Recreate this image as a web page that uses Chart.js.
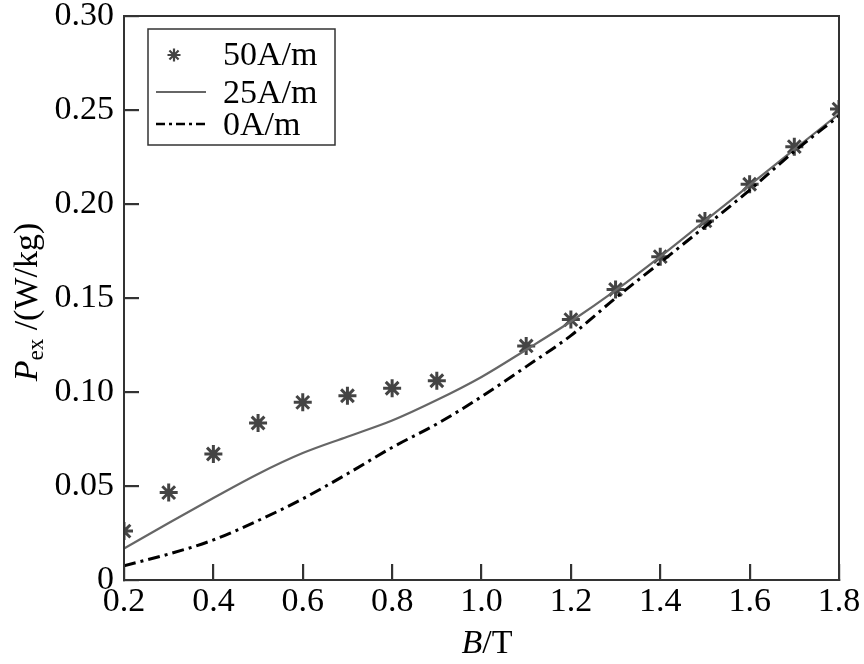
<!DOCTYPE html>
<html>
<head>
<meta charset="utf-8">
<script src="https://cdn.jsdelivr.net/npm/chart.js@4.4.1/dist/chart.umd.min.js"></script>
<style>
html,body{margin:0;padding:0;background:#fff;}
#wrap{width:864px;height:664px;position:relative;}
</style>
</head>
<body>
<div id="wrap"><canvas id="c" width="864" height="664"></canvas></div>
<script>
// ---- data ----
const bStars = [0.2,0.3,0.4,0.5,0.6,0.7,0.8,0.9,1.1,1.2,1.3,1.4,1.5,1.6,1.7,1.8];
const p50 = [0.026,0.0465,0.067,0.0835,0.0945,0.098,0.102,0.106,0.1245,0.1385,0.1545,0.172,0.191,0.2105,0.2305,0.2505];
const bLine = [0.2,0.3,0.4,0.5,0.6,0.7,0.8,0.9,1.0,1.1,1.2,1.3,1.4,1.5,1.6,1.7,1.8];
const p25 = [0.0167,0.0303,0.0436,0.0564,0.0675,0.0762,0.0848,0.0957,0.108,0.1225,0.1375,0.154,0.172,0.191,0.210,0.229,0.248];
const p0 = [0.0076,0.0138,0.0213,0.0316,0.0432,0.0565,0.0705,0.0830,0.0975,0.1135,0.1300,0.1500,0.1688,0.1880,0.2074,0.2280,0.2468];
const seriesLabels = ['50A/m','25A/m','0A/m'];
const xTicks = [0.2,0.4,0.6,0.8,1.0,1.2,1.4,1.6,1.8];
const yTicks = [0,0.05,0.10,0.15,0.20,0.25,0.30];

const FONT = "'Liberation Serif','Times New Roman',serif";
const FS = 34;
const pts = (xs, ys) => xs.map((x,i)=>({x:x,y:ys[i]}));

const framePlugin = {
  id:'frame',
  afterDraw(chart){
    const ctx = chart.ctx, a = chart.chartArea;
    ctx.save();
    ctx.setLineDash([]);
    ctx.strokeStyle = '#333'; ctx.lineWidth = 2;
    ctx.strokeRect(a.left, a.top, a.right-a.left, a.bottom-a.top);

    // legend
    ctx.fillStyle = '#fff';
    ctx.fillRect(148,29,187,116);
    ctx.strokeStyle = '#333'; ctx.lineWidth = 1.5;
    ctx.strokeRect(148,29,187,116);
    const cx=174, cy=55, r=6.5;
    ctx.strokeStyle='#444'; ctx.lineWidth=2.2;
    ctx.beginPath();
    for(let k=0;k<4;k++){ const ang = k*Math.PI/4; ctx.moveTo(cx-r*Math.cos(ang), cy-r*Math.sin(ang)); ctx.lineTo(cx+r*Math.cos(ang), cy+r*Math.sin(ang)); }
    ctx.stroke();
    ctx.strokeStyle='#666'; ctx.lineWidth=2;
    ctx.beginPath(); ctx.moveTo(156,92); ctx.lineTo(206,92); ctx.stroke();
    ctx.strokeStyle='#000'; ctx.lineWidth=2.5; ctx.setLineDash([9,4,3,4]);
    ctx.beginPath(); ctx.moveTo(156,124); ctx.lineTo(206,124); ctx.stroke();
    ctx.setLineDash([]);
    ctx.fillStyle='#000'; ctx.font = FS+'px '+FONT; ctx.textAlign='left'; ctx.textBaseline='alphabetic';
    ctx.fillText(seriesLabels[0],223,65);
    ctx.fillText(seriesLabels[1],223,103);
    ctx.fillText(seriesLabels[2],223,135);

    // x title
    ctx.font = 'italic '+FS+'px '+FONT;
    const wB = ctx.measureText('B').width;
    ctx.font = FS+'px '+FONT;
    const wT = ctx.measureText('/T').width;
    const x0 = 487 - (wB+wT)/2;
    ctx.font = 'italic '+FS+'px '+FONT; ctx.fillText('B', x0, 653);
    ctx.font = FS+'px '+FONT; ctx.fillText('/T', x0+wB, 653);

    // y title
    ctx.translate(37, 302);
    ctx.rotate(-Math.PI/2);
    ctx.font = 'italic '+FS+'px '+FONT; const wP = ctx.measureText('P').width;
    ctx.font = '23px '+FONT; const wE = ctx.measureText('ex').width;
    ctx.font = FS+'px '+FONT; const wR = ctx.measureText(' /(W/kg)').width;
    const t0 = -(wP+wE+wR)/2;
    ctx.font = 'italic '+FS+'px '+FONT; ctx.fillText('P', t0, 0);
    ctx.font = '23px '+FONT; ctx.fillText('ex', t0+wP, 6);
    ctx.font = FS+'px '+FONT; ctx.fillText(' /(W/kg)', t0+wP+wE, 0);
    ctx.restore();
  }
};

new Chart(document.getElementById('c'), {
  type:'scatter',
  data:{
    datasets:[
      {label:seriesLabels[2], data:pts(bLine,p0), showLine:true, borderColor:'#000', borderWidth:3, borderDash:[12,5,3,5], pointRadius:0, cubicInterpolationMode:'monotone', fill:false},
      {label:seriesLabels[1], data:pts(bLine,p25), showLine:true, borderColor:'#666', borderWidth:2.2, pointRadius:0, cubicInterpolationMode:'monotone', fill:false},
      {label:seriesLabels[0], data:pts(bStars,p50), showLine:false, pointStyle:'star', pointRadius:9, borderColor:'#444', backgroundColor:'#444', pointBorderWidth:3}
    ]
  },
  options:{
    responsive:false, animation:false,
    layout:{padding:{top:16,right:25,left:0,bottom:0}},
    plugins:{legend:{display:false}, tooltip:{enabled:false}},
    scales:{
      x:{type:'linear', min:0.2, max:1.8,
         afterBuildTicks(s){ s.ticks = xTicks.map(v=>({value:v})); },
         ticks:{callback:v=>Number(v).toFixed(1), font:{family:FONT,size:FS}, color:'#000', padding:18, maxRotation:0, autoSkip:false},
         grid:{display:true, drawOnChartArea:false, drawTicks:true, tickLength:-16, tickColor:'#333', tickWidth:2.2, color:'#333', lineWidth:2.2},
         border:{display:true,color:'#333',width:2},
         afterFit(s){ s.height = 84; s.paddingLeft = 0; s.paddingRight = 0; s.paddingTop = 0; s.paddingBottom = 0; }},
      y:{type:'linear', min:0, max:0.3,
         afterBuildTicks(s){ s.ticks = yTicks.map(v=>({value:v})); },
         ticks:{callback:v=> (Math.abs(v)<1e-9 ? '0' : Number(v).toFixed(2)), font:{family:FONT,size:FS}, color:'#000', padding:25, autoSkip:false},
         grid:{display:true, drawOnChartArea:false, drawTicks:true, tickLength:-15, tickColor:'#333', tickWidth:2.2, color:'#333', lineWidth:2.2},
         border:{display:true,color:'#333',width:2},
         afterFit(s){ s.width = 124; s.paddingTop = 0; s.paddingBottom = 0; s.paddingLeft = 0; s.paddingRight = 0; }}
    }
  },
  plugins:[framePlugin]
});
</script>
</body>
</html>
